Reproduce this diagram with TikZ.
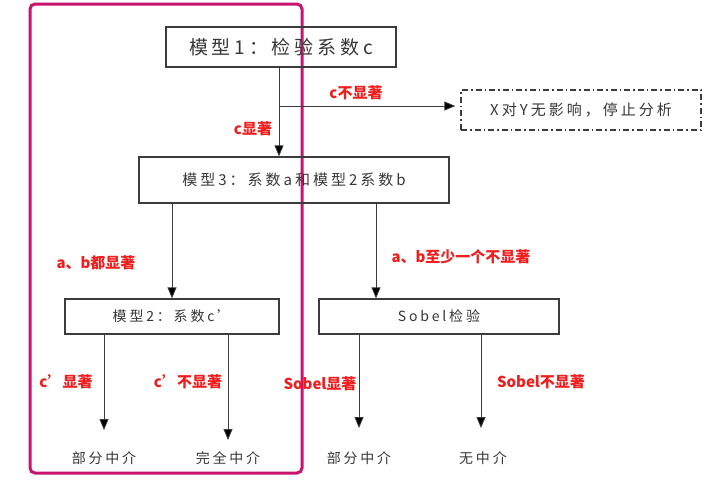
\documentclass[tikz,border=0pt]{standalone}
\usepackage{fontspec}
\usetikzlibrary{arrows.meta}
\newfontfamily\cjk{Noto Sans CJK SC}
\newfontfamily\cjkls[LetterSpace=20]{Noto Sans CJK SC}
\definecolor{boxgray}{RGB}{60,60,60}
\definecolor{txtgray}{RGB}{55,55,55}
\definecolor{lblred}{RGB}{240,30,30}
\definecolor{frame}{RGB}{200,20,110}
\begin{document}
\begin{tikzpicture}[x=1pt,y=-1pt,
  box/.style={draw=boxgray,line width=1.3pt,minimum height=35pt,inner sep=0pt,text=txtgray,font=\cjkls\fontsize{14}{16}\selectfont},
  dashbox/.style={draw=boxgray,line width=1.3pt,dash pattern=on 6pt off 3pt on 1.5pt off 3pt,inner sep=0pt,text=txtgray},
  conn/.style={draw=boxgray,line width=0.8pt,-{Triangle[length=11pt,width=9pt,fill=black]}},
  lbl/.style={text=lblred,font=\cjk\bfseries\fontsize{15}{17}\selectfont,inner sep=0pt},
  endtxt/.style={text=txtgray,font=\cjkls\fontsize{14}{16}\selectfont,inner sep=0pt}]
\useasboundingbox (0,0) rectangle (720,480);
\fill[white] (0,0) rectangle (720,480);
% magenta frame
\draw[frame,line width=3pt,rounded corners=5pt] (30,4) rectangle (302,473);
% boxes
\node[box,minimum width=230pt,minimum height=40pt,font=\cjkls\fontsize{19}{22}\selectfont] (m1) at (281,47) {模型1：检验系数c};
\node[dashbox,minimum width=240pt,minimum height=40pt,font=\cjkls\fontsize{15}{18}\selectfont] (stop) at (581,110) {X对Y无影响，停止分析};
\node[box,minimum width=310pt,minimum height=46pt,font=\cjkls\fontsize{15}{18}\selectfont] (m3) at (294,180) {模型3：系数a和模型2系数b};
\node[box,minimum width=214pt] (m2) at (172,316.5) {模型2：系数c’};
\node[box,minimum width=240pt] (sob) at (439,316.5) {Sobel检验};
% end texts
\node[endtxt] (e1) at (104,458) {部分中介};
\node[endtxt] (e2) at (228,458) {完全中介};
\node[endtxt] (e3) at (359,458) {部分中介};
\node[endtxt] (e4) at (483,458) {无中介};
% coordinates
\coordinate (br) at (279,106);
\coordinate (t1) at (104,430);
\coordinate (t2) at (228,440);
\coordinate (t3) at (359,428);
\coordinate (t4) at (481,428);
% connectors
\draw[conn] (m1.south -| br) -- (m3.north -| br);
\draw[conn,shorten >=5pt] (br) -- (stop.west |- br);
\draw[conn] (m3.south -| 172,0) -- (m2.north -| 172,0);
\draw[conn] (m3.south -| 376,0) -- (sob.north -| 376,0);
\draw[conn] (m2.south -| t1) -- (t1);
\draw[conn] (m2.south -| t2) -- (t2);
\draw[conn] (sob.south -| t3) -- (t3);
\draw[conn] (sob.south -| t4) -- (t4);
% labels
\node[lbl] (l1) at (356,93) {c不显著};
\node[lbl] (l2) at (253,129) {c显著};
\node[lbl] (l3) at (96,263) {a、b都显著};
\node[lbl] (l4) at (461,257) {a、b至少一个不显著};
\node[lbl] (l5) at (66,382) {c’显著};
\node[lbl] (l6) at (188,382) {c’不显著};
\node[lbl] (l7) at (320,384) {Sobel显著};
\node[lbl] (l8) at (541,382) {Sobel不显著};
\end{tikzpicture}
\end{document}
